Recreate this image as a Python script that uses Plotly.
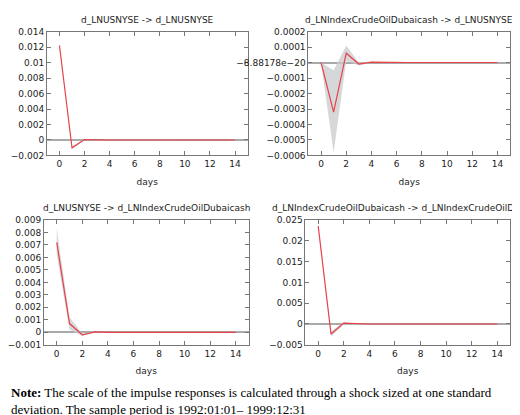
import plotly.graph_objects as go

days = list(range(15))

# response, lower band, upper band for each panel
irf_11 = [0.0122, -0.0010, 0.00005, 0.0, 0, 0, 0, 0, 0, 0, 0, 0, 0, 0, 0]
lo_11 = [0.0120, -0.0012, -0.00002, -0.00001, 0, 0, 0, 0, 0, 0, 0, 0, 0, 0, 0]
hi_11 = [0.0124, -0.0008, 0.00012, 0.00001, 0, 0, 0, 0, 0, 0, 0, 0, 0, 0, 0]

irf_21 = [0.0, -0.00032, 0.00006, -0.00001, 0.000002, 0, 0, 0, 0, 0, 0, 0, 0, 0, 0]
lo_21 = [0.0, -0.00058, 0.00001, -0.00002, -0.000002, 0, 0, 0, 0, 0, 0, 0, 0, 0, 0]
hi_21 = [0.0, -0.00005, 0.00011, 0.0, 0.000005, 0, 0, 0, 0, 0, 0, 0, 0, 0, 0]

irf_12 = [0.0072, 0.0007, -0.0002, 0.00003, 0.0, 0, 0, 0, 0, 0, 0, 0, 0, 0, 0]
lo_12 = [0.0062, 0.0002, -0.0003, -0.00002, 0, 0, 0, 0, 0, 0, 0, 0, 0, 0, 0]
hi_12 = [0.0083, 0.0012, -0.0001, 0.00008, 0, 0, 0, 0, 0, 0, 0, 0, 0, 0, 0]

irf_22 = [0.0235, -0.0024, 0.0002, 0.00002, 0, 0, 0, 0, 0, 0, 0, 0, 0, 0, 0]
lo_22 = [0.0231, -0.0030, -0.0001, -0.00005, 0, 0, 0, 0, 0, 0, 0, 0, 0, 0, 0]
hi_22 = [0.0239, -0.0018, 0.0005, 0.00008, 0, 0, 0, 0, 0, 0, 0, 0, 0, 0, 0]

titles = ["d_LNUSNYSE -> d_LNUSNYSE",
          "d_LNIndexCrudeOilDubaicash -> d_LNUSNYSE",
          "d_LNUSNYSE -> d_LNIndexCrudeOilDubaicash",
          "d_LNIndexCrudeOilDubaicash -> d_LNIndexCrudeOilDubaica"]

W, H = 520, 415
# plot boxes in pixels: x0, x1, ytop, ybottom
boxes = [(38, 239, 19, 146), (300, 502, 19, 146),
         (35, 240, 212, 340), (297, 502, 212, 340)]
yranges = [(-0.002, 0.014, 0.002), (-0.0006, 0.0002, 0.0001),
           (-0.001, 0.009, 0.001), (-0.005, 0.025, 0.005)]
series = [(irf_11, lo_11, hi_11), (irf_21, lo_21, hi_21),
          (irf_12, lo_12, hi_12), (irf_22, lo_22, hi_22)]

fig = go.Figure()
font = dict(family="DejaVu Sans", size=9, color="#222")
annotations = []
for i, ((x0, x1, yt, yb), (ymin, ymax, dt), (irf, lo, hi)) in enumerate(zip(boxes, yranges, series)):
    n = "" if i == 0 else str(i + 1)
    xa, ya = "x" + n, "y" + n
    fig.add_trace(go.Scatter(x=days, y=hi, mode="lines", line=dict(width=0),
                             xaxis=xa, yaxis=ya, showlegend=False, hoverinfo="skip"))
    fig.add_trace(go.Scatter(x=days, y=lo, mode="lines", line=dict(width=0), fill="tonexty",
                             fillcolor="rgba(200,202,204,0.75)",
                             xaxis=xa, yaxis=ya, showlegend=False, hoverinfo="skip"))
    fig.add_trace(go.Scatter(x=days, y=irf, mode="lines", line=dict(color="#e8424a", width=1.2),
                             xaxis=xa, yaxis=ya, showlegend=False))
    ax = dict(showline=True, linecolor="#777", linewidth=1, mirror="allticks",
              ticks="inside", ticklen=4, tickcolor="#777", showgrid=False,
              tickfont=font, zeroline=False)
    fig.update_layout(**{
        "xaxis" + n: dict(ax, domain=[x0 / W, x1 / W], range=[-1, 15], dtick=2,
                          anchor=ya, title=dict(text="days", font=font, standoff=10)),
        "yaxis" + n: dict(ax, domain=[1 - yb / H, 1 - yt / H], range=[ymin, ymax],
                          dtick=dt, anchor=xa, tickformat="~g", zeroline=True,
                          zerolinecolor="#aaa", zerolinewidth=1.5),
    })
    annotations.append(dict(text=titles[i], x=(x0 + x1) / 2 / W, y=1 - (yt - 12) / H,
                            xref="paper", yref="paper", xanchor="center", yanchor="middle",
                            showarrow=False, font=font))

annotations.append(dict(
    text="<b>Note:</b> The scale of the impulse responses is calculated through a shock sized at one standard"
         "<br>deviation. The sample period is 1992:01:01– 1999:12:31",
    x=0, y=1 - 379 / H, xref="paper", yref="paper", xanchor="left", yanchor="top",
    align="left", showarrow=False,
    font=dict(family="Liberation Serif", size=13, color="black")))

fig.update_layout(width=W, height=H, margin=dict(l=0, r=0, t=0, b=0),
                  plot_bgcolor="white", paper_bgcolor="white", annotations=annotations)
fig.write_html("out.html")
